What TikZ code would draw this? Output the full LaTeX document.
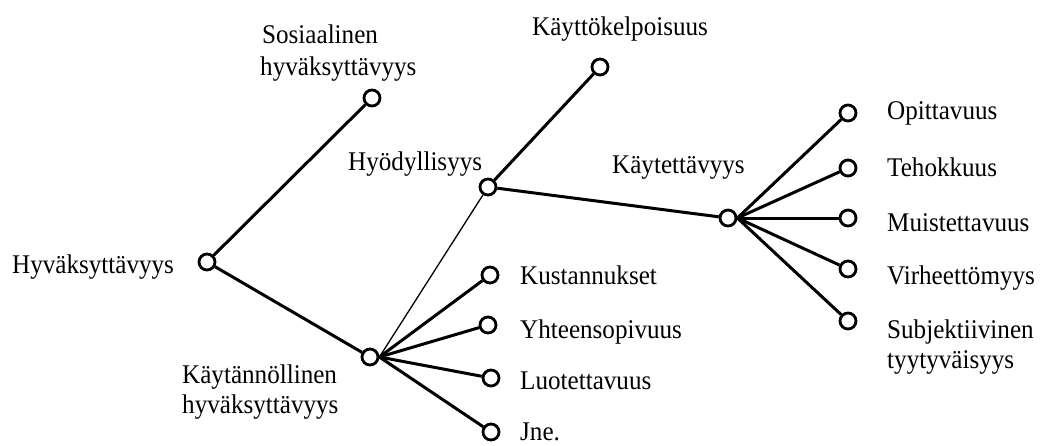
\documentclass[tikz,border=0pt]{standalone}
\usepackage{fontspec}
\setmainfont[FakeStretch=0.93]{Liberation Serif}
\begin{document}
\begin{tikzpicture}[x=1pt,y=-1pt,
  dot/.style={circle,draw,line width=2.8pt,fill=white,minimum size=16pt,inner sep=0pt},
  lbl/.style={anchor=base west,inner sep=0pt,font=\fontsize{27}{30}\selectfont},
  br/.style={line width=3pt},
  thinbr/.style={line width=1.3pt}]
\useasboundingbox (0,0) rectangle (1040,445);
% nodes
\node[dot] (hyv) at (207,262) {};
\node[dot] (sos) at (372,98) {};
\node[dot] (kayt) at (370,357) {};
\node[dot] (hyod) at (488,187) {};
\node[dot] (kelp) at (600,67) {};
\node[dot] (kaytt) at (728,218) {};
\node[dot] (opit) at (848,113) {};
\node[dot] (teho) at (848,168) {};
\node[dot] (muis) at (848,218) {};
\node[dot] (virh) at (848,269) {};
\node[dot] (subj) at (848,321) {};
\node[dot] (kust) at (490,275) {};
\node[dot] (yhte) at (488,325) {};
\node[dot] (luot) at (491,378) {};
\node[dot] (jne) at (491,432) {};
% connectors
\draw[br] (hyv) -- (sos);
\draw[br] (hyv) -- (kayt);
\draw[thinbr] (kayt.east) -- (hyod);
\draw[br] (hyod) -- (kelp);
\draw[br] (hyod) -- (kaytt);
\foreach \c in {opit,teho,muis,virh,subj} \draw[br] (kaytt.east) -- (\c);
\foreach \c in {kust,yhte,luot,jne} \draw[br] (kayt.east) -- (\c);
% labels
\node[lbl] (lhyv) at (12,273) {Hyväksyttävyys};
\node[lbl] (lsos1) at (262,43) {Sosiaalinen};
\node[lbl] (lsos2) at (260,75) {hyväksyttävyys};
\node[lbl] (lhyod) at (348,170) {Hyödyllisyys};
\node[lbl] (lkelp) at (532,35) {Käyttökelpoisuus};
\node[lbl] (lkaytt) at (612,173) {Käytettävyys};
\node[lbl] (lopit) at (887,119) {Opittavuus};
\node[lbl] (lteho) at (887,176) {Tehokkuus};
\node[lbl] (lmuis) at (887,231) {Muistettavuus};
\node[lbl] (lvirh) at (887,284) {Virheettömyys};
\node[lbl] (lsubj1) at (887,338) {Subjektiivinen};
\node[lbl] (lsubj2) at (887,368) {tyytyväisyys};
\node[lbl] (lkust) at (520,284) {Kustannukset};
\node[lbl] (lyhte) at (520,338) {Yhteensopivuus};
\node[lbl] (lluot) at (520,389) {Luotettavuus};
\node[lbl] (ljne) at (520,440) {Jne.};
\node[lbl] (lkayt1) at (182,383) {Käytännöllinen};
\node[lbl] (lkayt2) at (182,413) {hyväksyttävyys};
\end{tikzpicture}
\end{document}
